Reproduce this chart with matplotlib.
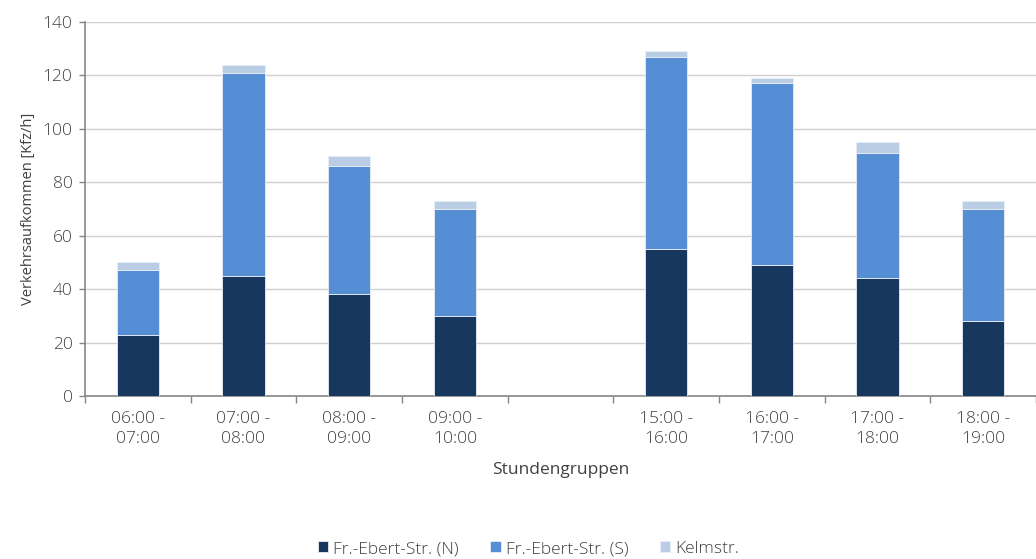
import matplotlib
matplotlib.use("Agg")
import matplotlib.pyplot as plt
import numpy as np

categories = ["06:00 -\n07:00", "07:00 -\n08:00", "08:00 -\n09:00", "09:00 -\n10:00", "",
              "15:00 -\n16:00", "16:00 -\n17:00", "17:00 -\n18:00", "18:00 -\n19:00"]
n_north = [23, 45, 38, 30, 0, 55, 49, 44, 28]
s_south = [24, 76, 48, 40, 0, 72, 68, 47, 42]
kelm = [3, 3, 4, 3, 0, 2, 2, 4, 3]
series_names = ["Fr.-Ebert-Str. (N)", "Fr.-Ebert-Str. (S)", "Kelmstr."]
colors = ["#17375e", "#558ed5", "#b9cde5"]

plt.rcParams['font.family'] = ['Open Sans', 'DejaVu Sans']
plt.rcParams['font.weight'] = 'light'
txt = "#404040"

fig = plt.figure(figsize=(10.36, 5.59), dpi=100)
ax = fig.add_axes([85/1036, 1-396/559, 1-85/1036, (396-22)/559])

x = np.arange(len(categories))
w = 0.40
n = np.array(n_north); s = np.array(s_south); k = np.array(kelm)
ax.bar(x, n, w, color=colors[0], edgecolor="#e8eef6", linewidth=0.6, label=series_names[0], zorder=3)
ax.bar(x, s, w, bottom=n, color=colors[1], edgecolor="#e8eef6", linewidth=0.6, label=series_names[1], zorder=3)
ax.bar(x, k, w, bottom=n+s, color=colors[2], edgecolor="#e8eef6", linewidth=0.6, label=series_names[2], zorder=3)

ax.set_ylim(0, 140)
ax.set_yticks(range(0, 141, 20))
ax.set_xlim(-0.5, 8.44)
ax.set_xticks(x)
ax.set_xticklabels(categories, linespacing=1.3)
ax.set_xticks(np.arange(-0.5, 9.0, 1.0), minor=True)
ax.tick_params(axis='x', which='major', length=0, pad=11, labelsize=12.5, labelcolor=txt)
ax.tick_params(axis='x', which='minor', length=5, color="#868686", width=1, direction='out')
ax.tick_params(axis='y', length=4, color="#868686", width=1, labelsize=12.5, labelcolor=txt, pad=5)

ax.yaxis.grid(True, color="#d0d0d0", linewidth=1, zorder=0)
ax.set_axisbelow(True)
for sp in ["top", "right"]:
    ax.spines[sp].set_visible(False)
for sp in ["left", "bottom"]:
    ax.spines[sp].set_color("#868686")
    ax.spines[sp].set_linewidth(1.2)

ax.set_ylabel("Verkehrsaufkommen [Kfz/h]", fontsize=10.5, color=txt, labelpad=5)
ax.set_xlabel("Stundengruppen", fontsize=12.5, color=txt, labelpad=11)

handles, labels = ax.get_legend_handles_labels()
fig.legend(handles, labels, loc='center', bbox_to_anchor=(0.51, 1-549/559), ncol=3,
           frameon=False, fontsize=12.5, handlelength=0.6, handleheight=0.6,
           handletextpad=0.3, columnspacing=1.8, labelcolor=txt)

fig.savefig("out.png", dpi=100)
